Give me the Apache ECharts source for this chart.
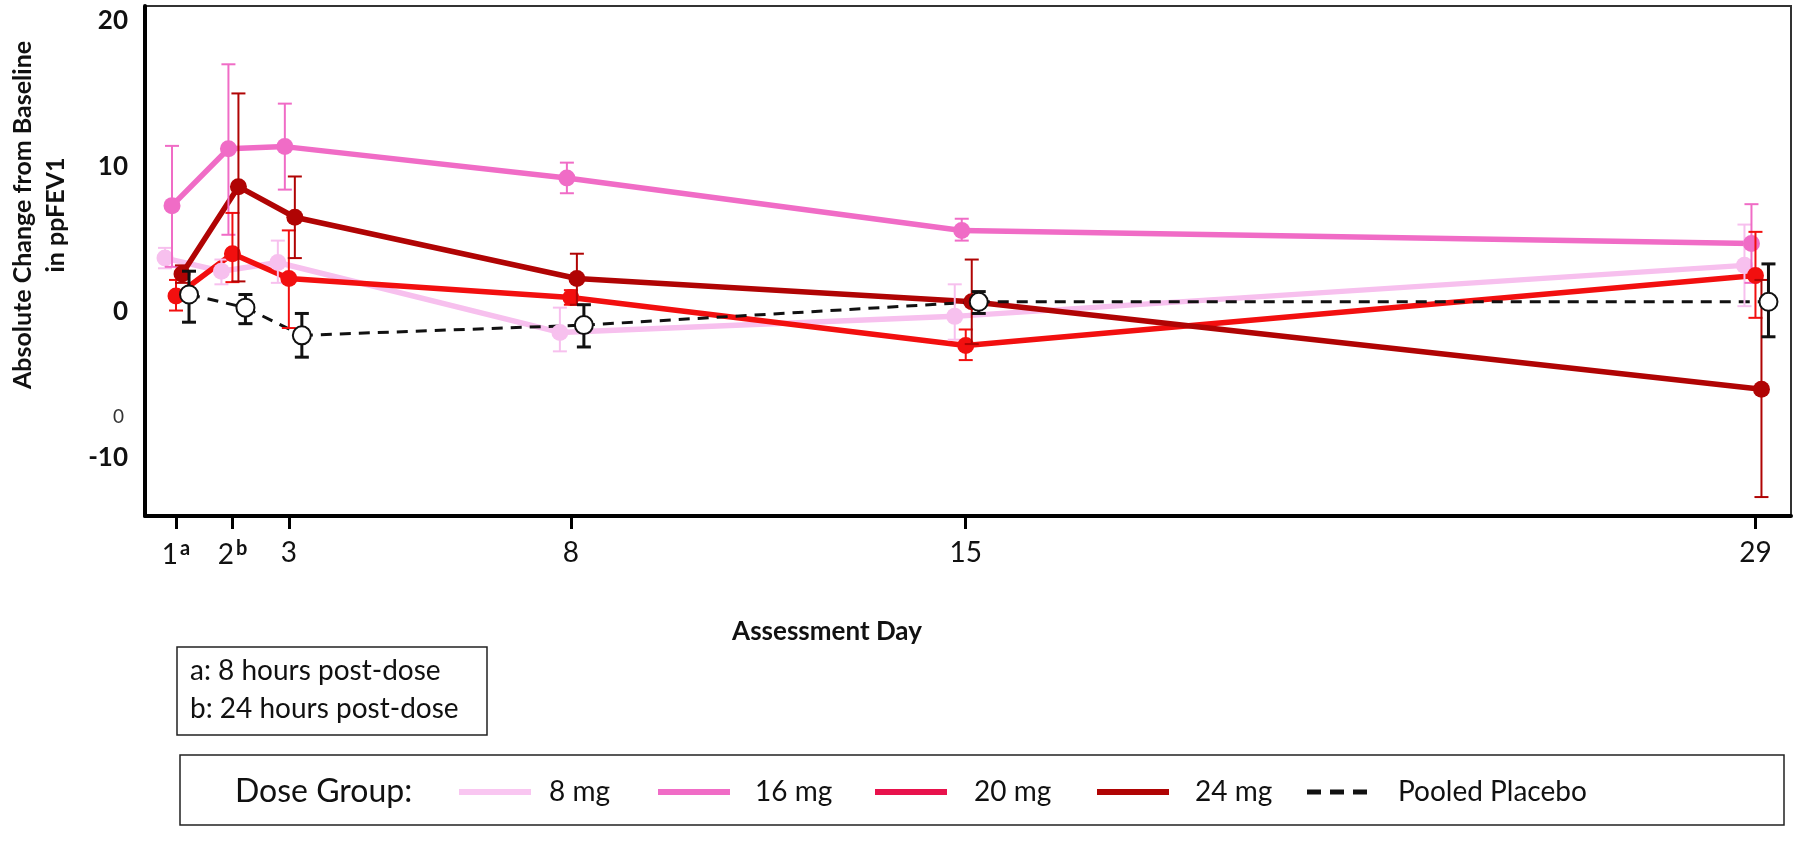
<!DOCTYPE html>
<html><head><meta charset="utf-8">
<script src="https://cdn.jsdelivr.net/npm/echarts@6/dist/echarts.min.js"></script>
<style>html,body{margin:0;padding:0;background:#fff}#chart{width:1801px;height:841px}</style>
</head><body><div id="chart"></div>
<script>
// ---------- DATA ----------
const days = [1, 2, 3, 8, 15, 29];
const tickSup = {1: 'a', 2: 'b'};
const yTickValues = [-10, 0, 10, 20];
const groupNames = ['8 mg', '16 mg', '20 mg', '24 mg', 'Pooled Placebo'];

const mean8  = [3.7, 2.8, 3.4, -1.4, -0.3, 3.2];
const lo8    = [3.0, 1.9, 2.0, -2.7, -1.9, 0.4];
const hi8    = [4.4, 3.6, 4.9, 0.3, 1.9, 6.0];

const mean16 = [7.3, 11.2, 11.35, 9.2, 5.6, 4.7];
const lo16   = [3.1, 5.3, 8.4, 8.15, 4.9, 2.0];
const hi16   = [11.4, 17.0, 14.3, 10.25, 6.4, 7.4];

const mean20 = [1.1, 4.0, 2.3, 1.0, -2.3, 2.5];
const lo20   = [0.1, 2.05, -1.1, 0.5, -3.3, -0.4];
const hi20   = [2.2, 6.8, 5.6, 1.5, -1.2, 5.5];

const mean24 = [2.6, 8.6, 6.5, 2.3, 0.7, -5.3];
const lo24   = [2.0, 2.1, 3.7, 0.5, -2.2, -12.7];
const hi24   = [3.2, 15.0, 9.3, 4.0, 3.6, 2.2];

const meanP  = [1.2, 0.3, -1.6, -0.9, 0.7, 0.7];
const loP    = [-0.7, -0.8, -3.1, -2.4, -0.1, -1.7];
const hiP    = [2.8, 1.2, -0.1, 0.5, 1.4, 3.3];

const footnotes = ['a: 8 hours post-dose', 'b: 24 hours post-dose'];
const legendTitle = 'Dose Group:';
const yTitle = 'Absolute Change from Baseline\nin ppFEV1';
const xTitle = 'Assessment Day';
const strayLabel = '0';

// ---------- STYLE ----------
const FONT = 'Lato, "Open Sans", sans-serif';
const groups = [
  {mean: mean8,  lo: lo8,  hi: hi8,  color: '#f7c0ee', legend: '#f9c6f1', off: -11, lw: 5.5, r: 8.5, ebw: 2, fill: '#f7c0ee'},
  {mean: mean16, lo: lo16, hi: hi16, color: '#f06cc6', legend: '#f06cc6', off: -4,  lw: 5.5, r: 8.5, ebw: 2, fill: '#f06cc6'},
  {mean: mean20, lo: lo20, hi: hi20, color: '#f20f0f', legend: '#e8124c', off: 0,   lw: 5.5, r: 8.5, ebw: 2, fill: '#f20f0f'},
  {mean: mean24, lo: lo24, hi: hi24, color: '#b00404', legend: '#b00404', off: 6,   lw: 5.5, r: 8.5, ebw: 2, fill: '#b00404'},
  {mean: meanP,  lo: loP,  hi: hiP,  color: '#111111', legend: '#111111', off: 13,  lw: 3, r: 9, ebw: 3, fill: '#ffffff', dash: [11, 8]}
];

const series = [];
groups.forEach((g, gi) => {
  const segData = [];
  for (let i = 0; i < days.length - 1; i++) segData.push([days[i], g.mean[i], days[i + 1], g.mean[i + 1]]);
  series.push({
    type: 'custom', name: groupNames[gi] + ' line', z: 2 + gi,
    encode: {x: [0, 2], y: [1, 3]},
    data: segData,
    renderItem: (params, api) => {
      const p0 = api.coord([api.value(0), api.value(1)]);
      const p1 = api.coord([api.value(2), api.value(3)]);
      return {type: 'line', shape: {x1: p0[0] + g.off, y1: p0[1], x2: p1[0] + g.off, y2: p1[1]},
        style: {stroke: g.color, lineWidth: g.lw, lineDash: g.dash || null, lineCap: g.dash ? 'butt' : 'round'}};
    }
  });
});
groups.forEach((g, gi) => {
  const ptData = days.map((d, i) => [d, g.mean[i], g.lo[i], g.hi[i]]);
  series.push({
    type: 'custom', name: groupNames[gi] + ' points', z: 10 + gi,
    encode: {x: 0, y: [1, 2, 3]},
    data: ptData,
    renderItem: (params, api) => {
      const x = api.value(0);
      const p = api.coord([x, api.value(1)]);
      const pl = api.coord([x, api.value(2)]);
      const ph = api.coord([x, api.value(3)]);
      const cx = p[0] + g.off, cap = 7;
      const st = {stroke: g.color, lineWidth: g.ebw};
      return {type: 'group', children: [
        {type: 'line', shape: {x1: cx, y1: pl[1], x2: cx, y2: ph[1]}, style: st},
        {type: 'line', shape: {x1: cx - cap, y1: pl[1], x2: cx + cap, y2: pl[1]}, style: st},
        {type: 'line', shape: {x1: cx - cap, y1: ph[1], x2: cx + cap, y2: ph[1]}, style: st},
        {type: 'circle', shape: {cx: cx, cy: p[1], r: g.r}, style: {fill: g.fill, stroke: g.color, lineWidth: gi === 4 ? 2 : 0}}
      ]};
    }
  });
});

// ---------- GRAPHICS (legend, footnotes, titles) ----------
const graphic = [];
graphic.push({type: 'text', x: 39, y: 215, rotation: Math.PI / 2,
  style: {text: yTitle, font: 'bold 25px ' + FONT, fill: '#111', align: 'center', verticalAlign: 'middle', lineHeight: 33}});
graphic.push({type: 'text', x: 827, y: 632,
  style: {text: xTitle, font: 'bold 26px ' + FONT, fill: '#111', align: 'center', verticalAlign: 'middle'}});
graphic.push({type: 'text', x: 124, y: 417,
  style: {text: strayLabel, font: '19px ' + FONT, fill: '#333', align: 'right', verticalAlign: 'middle'}});
// footnote box
graphic.push({type: 'rect', shape: {x: 177, y: 647, width: 310, height: 88}, style: {fill: '#fff', stroke: '#222', lineWidth: 1.5}});
footnotes.forEach((t, i) => graphic.push({type: 'text', x: 190, y: 671 + i * 38,
  style: {text: t, font: '28px ' + FONT, fill: '#111', align: 'left', verticalAlign: 'middle'}}));
// legend box
graphic.push({type: 'rect', shape: {x: 180, y: 755, width: 1604, height: 70}, style: {fill: '#fff', stroke: '#222', lineWidth: 1.5}});
graphic.push({type: 'text', x: 235, y: 792, style: {text: legendTitle, font: '32px ' + FONT, fill: '#111', align: 'left', verticalAlign: 'middle'}});
const legLineX = [459, 658, 875, 1097, 1307];
const legTextX = [549, 755, 974, 1195, 1398];
groups.forEach((g, gi) => {
  graphic.push({type: 'line', shape: {x1: legLineX[gi], y1: 792, x2: legLineX[gi] + (gi === 4 ? 66 : 72), y2: 792},
    style: {stroke: g.legend, lineWidth: gi === 4 ? 5 : 6, lineDash: gi === 4 ? [14, 9] : null}});
  graphic.push({type: 'text', x: legTextX[gi], y: 792,
    style: {text: groupNames[gi], font: '28px ' + FONT, fill: '#111', align: 'left', verticalAlign: 'middle'}});
});

const option = {
  backgroundColor: '#fff',
  animation: false,
  grid: {left: 145, right: 10, top: 6, bottom: 325, show: true, borderColor: '#333', borderWidth: 2},
  xAxis: {
    type: 'value', min: 0.45, max: 29.63,
    splitLine: {show: false},
    axisLine: {show: true, onZero: false, lineStyle: {color: '#000', width: 4}},
    axisTick: {show: true, customValues: days, length: 13, lineStyle: {color: '#000', width: 3}},
    axisLabel: {
      customValues: days, margin: 23, color: '#111', fontFamily: FONT, fontSize: 28,
      formatter: v => tickSup[v] ? '{n|' + v + '}{s|' + tickSup[v] + '}' : '{n|' + v + '}',
      rich: {n: {fontSize: 28, fontFamily: FONT, color: '#111'}, s: {fontSize: 20, fontWeight: 'bold', fontFamily: FONT, color: '#111', verticalAlign: 'top', padding: [0, 0, 12, 2]}}
    }
  },
  yAxis: {
    type: 'value', min: -14, max: 21,
    splitLine: {show: false},
    axisLine: {show: true, onZero: false, lineStyle: {color: '#000', width: 4}},
    axisTick: {show: false},
    axisLabel: {customValues: yTickValues, margin: 17, color: '#111', fontFamily: FONT, fontSize: 26, fontWeight: 'bold'}
  },
  graphic: graphic,
  series: series
};
const chart = echarts.init(document.getElementById('chart'));
chart.setOption(option);
</script></body></html>
